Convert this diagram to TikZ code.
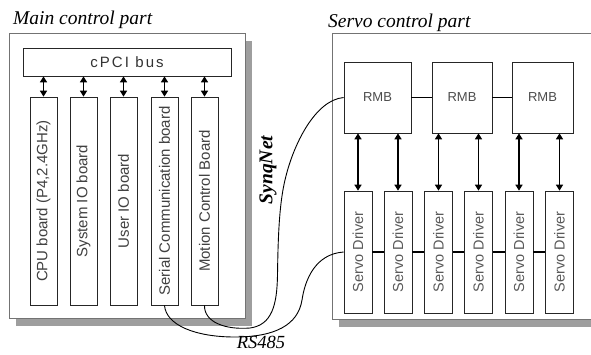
\documentclass[tikz,border=0pt]{standalone}
\usepackage{fontspec}
\setmainfont{Liberation Serif}
\setsansfont{Liberation Sans}
\usetikzlibrary{arrows.meta,shadows}
\begin{document}
\begin{tikzpicture}[x=1pt,y=-1pt,
  frame/.style={draw=black!55,line width=0.9pt,fill=white,inner sep=0pt,
    drop shadow={shadow xshift=7pt,shadow yshift=-8pt,fill=black!38,opacity=1}},
  boxb/.style={draw=black!85,line width=0.7pt,fill=white,inner sep=0pt},
  board/.style={boxb,minimum width=27pt,minimum height=208pt,
    font=\sffamily\fontsize{15}{15}\selectfont,text=black!75,rotate=90},
  sdrv/.style={boxb,minimum width=28pt,minimum height=122pt,
    font=\sffamily\fontsize{14.5}{14.5}\selectfont,text=black!65},
  rmb/.style={boxb,minimum height=71pt,
    font=\sffamily\fontsize{13}{13}\selectfont,text=black!70},
  ital/.style={font=\itshape\fontsize{19.5}{19.5}\selectfont,inner sep=0pt},
  dbl/.style={{Triangle[length=6pt,width=7pt]}-{Triangle[length=6pt,width=7pt]},line width=1.6pt},
  dblb/.style={{Triangle[length=6pt,width=7pt]}-{Triangle[length=6pt,width=7pt]},line width=1.9pt},
  link/.style={line width=1.2pt},
  cable/.style={line width=0.9pt}]
\useasboundingbox (0,0) rectangle (591,354);
\clip (0,0) rectangle (591,354);
% frames
\node[frame,minimum width=236pt,minimum height=285pt] (main) at (127,175.5) {};
\node[frame,minimum width=268pt,minimum height=286pt] (servo) at (466,176) {};
\node[ital,anchor=base west] (mtitle) at (13,24) {Main control part};
\node[ital,anchor=base west] (stitle) at (328,27) {Servo control part};
% bus
\node[boxb,minimum width=208pt,minimum height=28pt,
  font=\sffamily\fontsize{15}{15}\selectfont\addfontfeature{LetterSpace=14},text=black!80] (bus) at (127,62) {cPCI bus};
% boards
\node[board,minimum width=208pt,minimum height=27pt] (b1) at (43.5,201) {CPU board (P4,2.4GHz)};
\node[board,minimum width=208pt,minimum height=27pt] (b2) at (83.5,201) {System IO board};
\node[board,minimum width=208pt,minimum height=27pt] (b3) at (123.5,201) {User IO board};
\node[board,minimum width=208pt,minimum height=27pt] (b4) at (164.5,201) {Serial Communication board};
\node[board,minimum width=208pt,minimum height=27pt] (b5) at (204.5,201) {Motion Control Board};
\foreach \b in {b1,b2,b3,b4,b5}{
  \draw[dbl] (\b.east) -- (\b.east |- bus.south);
}
% RMBs
\node[rmb,minimum width=67pt] (r1) at (377.5,97.5) {RMB};
\node[rmb,minimum width=60pt] (r2) at (462,97.5) {RMB};
\node[rmb,minimum width=61pt] (r3) at (542.5,97.5) {RMB};
\draw[link] (r1.east) -- (r2.west);
\draw[link] (r2.east) -- (r3.west);
% servo drivers
\foreach \i/\x in {1/358,2/398,3/438.5,4/478.5,5/519,6/559.5}{
  \node[sdrv,minimum width=122pt,minimum height=28pt,rotate=90] (s\i) at (\x,252) {Servo Driver};
}
\draw[link] (s1.south) -- (s2.north);
\draw[link] (s2.south) -- (s3.north);
\draw[link] (s3.south) -- (s4.north);
\draw[link] (s4.south) -- (s5.north);
\draw[link] (s5.south) -- (s6.north);
\draw[dbl] (s1.east) -- (s1.east |- r1.south);
\draw[dbl] (s2.east) -- (s2.east |- r1.south);
\draw[dbl] (s3.east) -- (s3.east |- r2.south);
\draw[dbl] (s4.east) -- (s4.east |- r2.south);
\draw[dblb] (s5.east) -- (s5.east |- r3.south);
\draw[dblb] (s6.east) -- (s6.east |- r3.south);
% cables
\draw[cable] (b5.west) .. controls (204,322) and (225,330) .. (250,328)
  .. controls (272,325) and (277,305) .. (277.5,275)
  .. controls (278,240) and (279,205) .. (285,180)
  .. controls (293,145) and (315,100) .. (r1.west);
\draw[cable] (b4.west) .. controls (166,325) and (195,337) .. (235,337)
  .. controls (275,337) and (298,325) .. (302,300)
  .. controls (305,280) and (315,254) .. (s1.north);
\node[ital,rotate=90] (synq) at (268,170) {\bfseries SynqNet};
\node[ital,anchor=base,font=\itshape\fontsize{18.5}{18.5}\selectfont] (rs) at (261,348) {RS485};
\end{tikzpicture}
\end{document}
